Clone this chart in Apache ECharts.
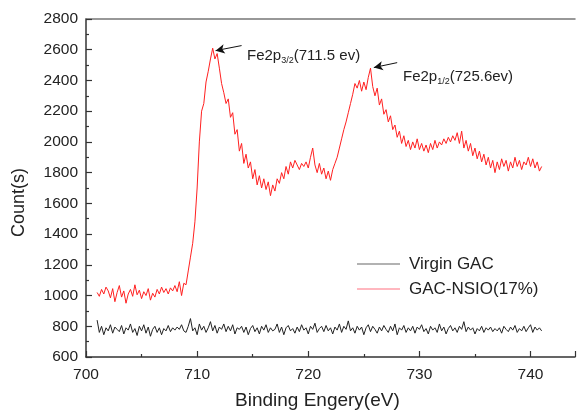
<!DOCTYPE html>
<html>
<head>
<meta charset="utf-8">
<script src="https://cdn.jsdelivr.net/npm/echarts@6/dist/echarts.min.js"></script>
<style>html,body{margin:0;padding:0;background:#fff;}#c{width:578px;height:412px;}</style>
</head>
<body>
<div id="c"></div>
<script>
// Binding energy (eV)
const energy = [
701.0,701.2,701.4,701.6,701.8,702.0,702.2,702.4,702.6,702.8,
703.0,703.2,703.4,703.6,703.8,704.0,704.2,704.4,704.6,704.8,
705.0,705.2,705.4,705.6,705.8,706.0,706.2,706.4,706.6,706.8,
707.0,707.2,707.4,707.6,707.8,708.0,708.2,708.4,708.6,708.8,
709.0,709.2,709.4,709.6,709.8,710.0,710.2,710.4,710.6,710.8,
711.0,711.2,711.4,711.6,711.8,712.0,712.2,712.4,712.6,712.8,
713.0,713.2,713.4,713.6,713.8,714.0,714.2,714.4,714.6,714.8,
715.0,715.2,715.4,715.6,715.8,716.0,716.2,716.4,716.6,716.8,
717.0,717.2,717.4,717.6,717.8,718.0,718.2,718.4,718.6,718.8,
719.0,719.2,719.4,719.6,719.8,720.0,720.2,720.4,720.6,720.8,
721.0,721.2,721.4,721.6,721.8,722.0,722.2,722.4,722.6,722.8,
723.0,723.2,723.4,723.6,723.8,724.0,724.2,724.4,724.6,724.8,
725.0,725.2,725.4,725.6,725.8,726.0,726.2,726.4,726.6,726.8,
727.0,727.2,727.4,727.6,727.8,728.0,728.2,728.4,728.6,728.8,
729.0,729.2,729.4,729.6,729.8,730.0,730.2,730.4,730.6,730.8,
731.0,731.2,731.4,731.6,731.8,732.0,732.2,732.4,732.6,732.8,
733.0,733.2,733.4,733.6,733.8,734.0,734.2,734.4,734.6,734.8,
735.0,735.2,735.4,735.6,735.8,736.0,736.2,736.4,736.6,736.8,
737.0,737.2,737.4,737.6,737.8,738.0,738.2,738.4,738.6,738.8,
739.0,739.2,739.4,739.6,739.8,740.0,740.2,740.4,740.6,740.8,
741.0
];

// Virgin GAC counts
const virginGAC = [
840,760,800,745,790,770,810,755,795,780,
765,805,750,790,775,815,760,785,740,800,
770,810,755,795,735,780,800,760,790,745,
785,770,805,765,790,775,795,780,810,770,
760,800,850,770,790,745,815,775,800,760,
790,830,770,805,755,795,780,815,765,800,
770,810,750,790,780,800,760,795,745,785,
805,765,790,750,800,775,810,760,790,770,
780,815,760,795,745,790,805,770,785,755,
795,765,810,775,790,750,800,780,820,760,
785,800,765,805,770,790,750,795,775,815,
760,800,780,835,770,790,755,800,775,795,
745,790,810,765,800,780,755,795,770,805,
780,760,800,770,815,745,790,775,805,760,
790,770,800,755,795,780,810,765,785,750,
800,775,790,760,815,770,795,750,785,805,
770,790,760,800,780,830,765,795,775,790,
750,785,770,800,760,790,775,795,765,785,
770,790,755,800,780,765,795,775,805,760,
785,770,800,765,790,810,760,795,775,790,
770
];

// GAC-NSIO(17%) counts
const gacNSIO = [
1020,995,1040,1010,1055,1030,985,1045,960,1020,
1065,990,1030,950,1010,1040,995,1070,1005,1035,
980,1025,1000,1045,970,1015,990,1040,1010,1055,
1020,1045,1010,1050,1030,1065,1025,1090,1000,1080,
1070,1160,1250,1340,1480,1700,2000,2200,2250,2390,
2460,2540,2610,2540,2575,2480,2380,2320,2250,2280,
2160,2190,2050,2080,1940,1990,1860,1920,1830,1870,
1760,1820,1720,1780,1700,1760,1690,1740,1650,1720,
1680,1760,1730,1800,1760,1840,1790,1870,1830,1880,
1850,1820,1860,1840,1870,1830,1900,1960,1850,1800,
1860,1790,1830,1760,1810,1750,1820,1860,1900,1960,
2020,2080,2130,2190,2250,2310,2380,2350,2400,2330,
2390,2340,2420,2480,2360,2300,2350,2240,2280,2180,
2210,2130,2170,2080,2110,2030,2070,1990,2040,1970,
2010,1950,2000,1960,2020,1950,1990,1940,1980,1930,
1990,1950,2010,1960,2000,1980,2020,1990,2030,2000,
2040,2010,2060,1990,2070,1960,2010,1940,1990,1910,
1960,1890,1940,1870,1920,1850,1900,1830,1880,1800,
1870,1820,1890,1840,1880,1810,1870,1830,1900,1840,
1880,1820,1870,1850,1900,1840,1890,1830,1870,1810,
1840
];

const seriesNames = ['Virgin GAC', 'GAC-NSIO(17%)'];
const xTicks = [700, 710, 720, 730, 740];
const yTicks = [600, 800, 1000, 1200, 1400, 1600, 1800, 2000, 2200, 2400, 2600, 2800];
// annotation arrows: [fromX, fromY, toX, toY]
const arrow1 = [714.0, 2627, 711.66, 2594];
const arrow2 = [728.0, 2516, 725.9, 2484];

const FONT = '"Liberation Sans", Arial, sans-serif';
const chart = echarts.init(document.getElementById('c'), null, {renderer: 'canvas'});

const axisCommon = {
  axisLine: {show: true, lineStyle: {color: '#333', width: 1.5}},
  axisTick: {show: true, inside: true, length: 6, lineStyle: {color: '#333', width: 1.2}},
  minorTick: {show: true, splitNumber: 2, length: 3, lineStyle: {color: '#333', width: 1.2}},
  splitLine: {show: false},
  axisLabel: {fontFamily: FONT, fontSize: 15.5, color: '#222'}
};

chart.setOption({
  animation: false,
  backgroundColor: '#fff',
  grid: {left: 86, top: 19, right: 1, bottom: 55},
  xAxis: [
    Object.assign({}, axisCommon, {
      type: 'value', min: xTicks[0], max: 744, interval: 10,
      axisLabel: Object.assign({}, axisCommon.axisLabel, {margin: 10,
        formatter: v => xTicks.includes(v) ? String(v) : ''})
    }),
    {type: 'value', position: 'top', min: xTicks[0], max: 744,
     axisLine: {show: true, lineStyle: {color: '#777', width: 1.5}},
     axisTick: {show: false}, axisLabel: {show: false}, splitLine: {show: false}}
  ],
  yAxis: Object.assign({}, axisCommon, {
    type: 'value', min: yTicks[0], max: yTicks[yTicks.length - 1], interval: 200,
    axisLabel: Object.assign({}, axisCommon.axisLabel, {margin: 8,
      formatter: v => yTicks.includes(v) ? String(v) : ''})
  }),
  legend: {
    orient: 'vertical', left: 352, top: 249, icon: 'rect', itemWidth: 43, itemHeight: 1.2, itemGap: 5,
    textStyle: {fontFamily: FONT, fontSize: 17, color: '#222', lineHeight: 20, padding: [0, 0, 0, 4]},
    data: [
      {name: seriesNames[0], itemStyle: {color: '#666'}},
      {name: seriesNames[1], itemStyle: {color: '#ff7080'}}
    ]
  },
  series: [
    {
      name: seriesNames[0], type: 'line', symbol: 'none', xAxisIndex: 0,
      data: energy.map((e, i) => [e, virginGAC[i]]),
      lineStyle: {color: '#222', width: 1}, itemStyle: {color: '#222'}
    },
    {
      name: seriesNames[1], type: 'line', symbol: 'none', xAxisIndex: 0,
      data: energy.map((e, i) => [e, gacNSIO[i]]),
      lineStyle: {color: '#ff2020', width: 1}, itemStyle: {color: '#ff2020'},
      markLine: {
        silent: true, symbol: ['none', 'arrow'], symbolSize: [7, 9],
        label: {show: false},
        lineStyle: {color: '#111', width: 1, type: 'solid'},
        data: [
          [{coord: [arrow1[0], arrow1[1]]}, {coord: [arrow1[2], arrow1[3]]}],
          [{coord: [arrow2[0], arrow2[1]]}, {coord: [arrow2[2], arrow2[3]]}]
        ]
      }
    }
  ],
  graphic: [
    {type: 'text', left: 247, top: 47, style: {
      text: '{a|Fe2p}{s|3/2}{a|(711.5 ev)}', fill: '#222',
      rich: {a: {fontFamily: FONT, fontSize: 15, lineHeight: 18, fill: '#222'},
             s: {fontFamily: FONT, fontSize: 9, lineHeight: 18, verticalAlign: 'bottom', padding: [9, 0, 0, 0], fill: '#222'}}
    }},
    {type: 'text', left: 403, top: 68, style: {
      text: '{a|Fe2p}{s|1/2}{a|(725.6ev)}', fill: '#222',
      rich: {a: {fontFamily: FONT, fontSize: 15, lineHeight: 18, fill: '#222'},
             s: {fontFamily: FONT, fontSize: 9, lineHeight: 18, verticalAlign: 'bottom', padding: [9, 0, 0, 0], fill: '#222'}}
    }},
    {type: 'text', left: 235, top: 391, style: {
      text: 'Binding Engery(eV)', fontFamily: FONT, fontSize: 19, fill: '#222'}},
    {type: 'text', left: 10, top: 168, rotation: Math.PI / 2, style: {
      text: 'Count(s)', fontFamily: FONT, fontSize: 18, fill: '#222'}}
  ]
});
</script>
</body>
</html>
